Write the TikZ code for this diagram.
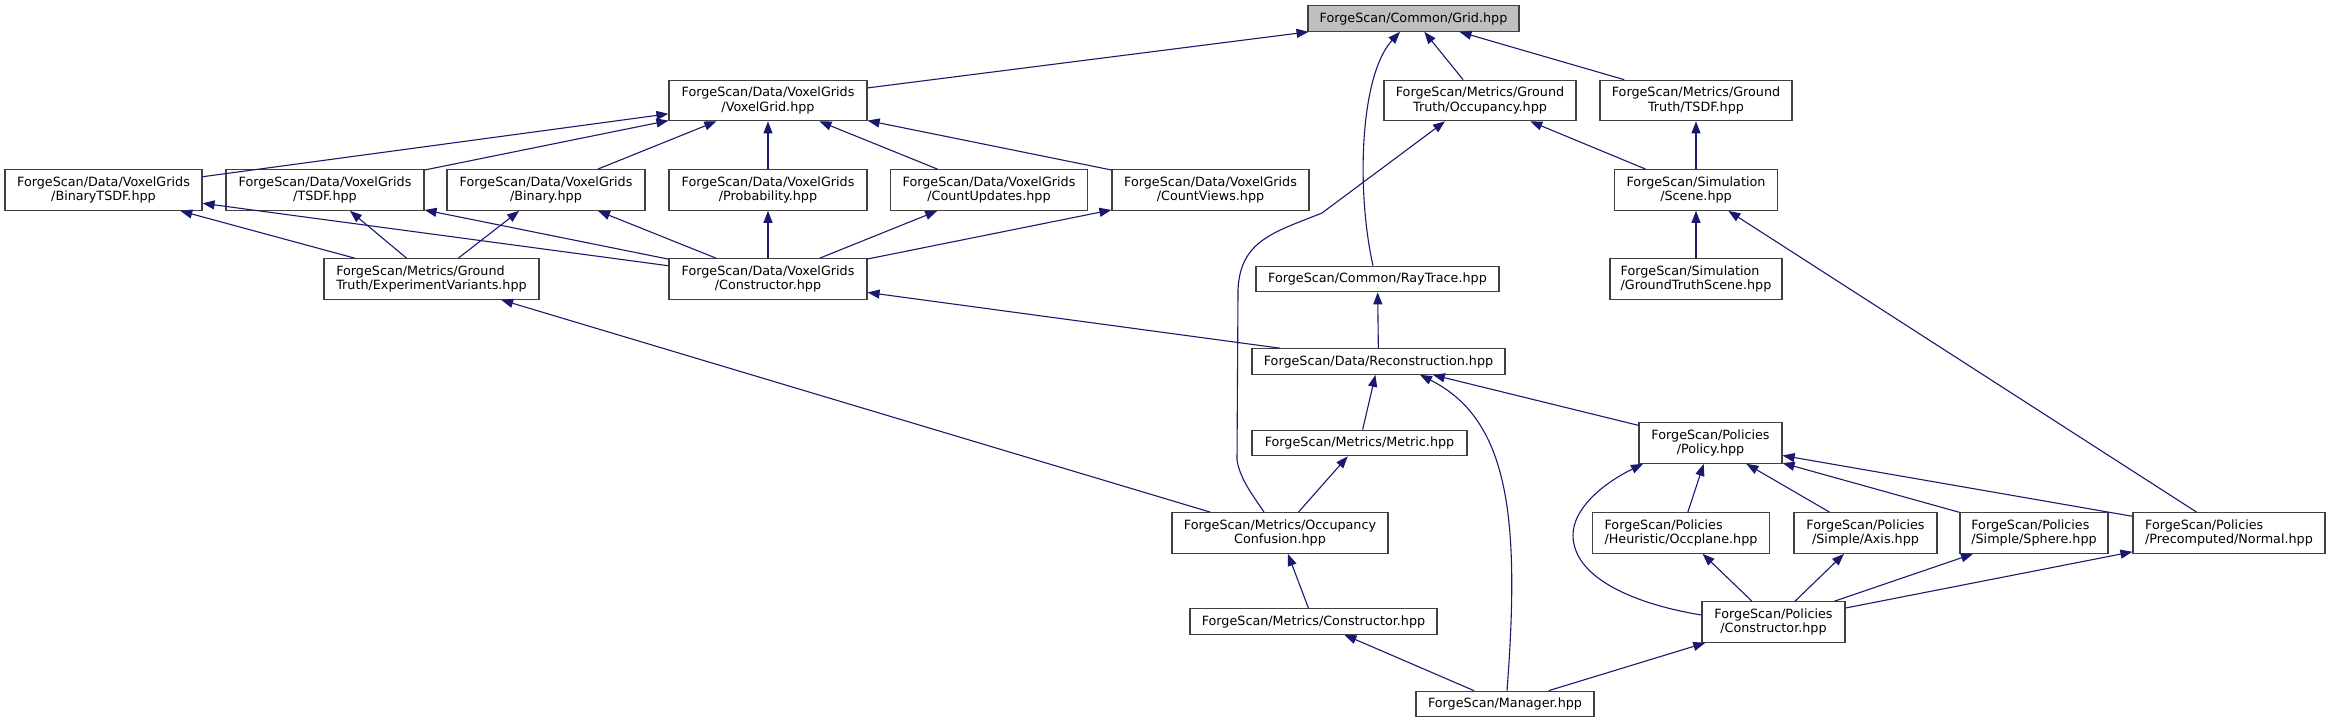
\documentclass[tikz,border=0pt]{standalone}
\usepackage{fontspec}
\setmainfont{DejaVu Sans}
\usetikzlibrary{arrows.meta}
\definecolor{edgec}{HTML}{191970}
\definecolor{boxc}{HTML}{404040}
\definecolor{gridfill}{HTML}{BFBFBF}
\begin{document}
\begin{tikzpicture}[x=1pt,y=-1pt,
  box/.style={draw=boxc, line width=1.2pt, fill=white, inner sep=0pt, align=center,
    font={\fontsize{12.75pt}{14.3pt}\selectfont}},
  lbox/.style={box, align=left},
  one/.style={minimum height=25.5pt},
  two/.style={minimum height=40.5pt},
  edge/.style={draw=edgec, line width=1.1pt, {Triangle[length=12pt,width=9pt]}-}]
\fill[white] (0,0) rectangle (2331,723);
\useasboundingbox (0,0) rectangle (2331,723);

% nodes
\node[box, one, minimum width=211pt, fill=gridfill] (grid) at (1413.5,18.5) {ForgeScan/Common/Grid.hpp};

\node[box, two, minimum width=198pt] (vg) at (768,100.5) {ForgeScan/Data/VoxelGrids\\/VoxelGrid.hpp};
\node[box, two, minimum width=192pt] (occ) at (1480,100.5) {ForgeScan/Metrics/Ground\\Truth/Occupancy.hpp};
\node[box, two, minimum width=192pt] (gttsdf) at (1696,100.5) {ForgeScan/Metrics/Ground\\Truth/TSDF.hpp};

\node[box, two, minimum width=197pt] (btsdf) at (103.5,190) {ForgeScan/Data/VoxelGrids\\/BinaryTSDF.hpp};
\node[box, two, minimum width=198pt] (tsdf) at (325,190) {ForgeScan/Data/VoxelGrids\\/TSDF.hpp};
\node[box, two, minimum width=198pt] (bin) at (546,190) {ForgeScan/Data/VoxelGrids\\/Binary.hpp};
\node[box, two, minimum width=198pt] (prob) at (768,190) {ForgeScan/Data/VoxelGrids\\/Probability.hpp};
\node[box, two, minimum width=197.5pt] (cu) at (989,190) {ForgeScan/Data/VoxelGrids\\/CountUpdates.hpp};
\node[box, two, minimum width=197pt] (cv) at (1210.5,190) {ForgeScan/Data/VoxelGrids\\/CountViews.hpp};
\node[box, two, minimum width=162.5pt] (scene) at (1696,190) {ForgeScan/Simulation\\/Scene.hpp};

\node[lbox, two, minimum width=215pt] (ev) at (431.5,279) {ForgeScan/Metrics/Ground\\Truth/ExperimentVariants.hpp};
\node[box, two, minimum width=198pt] (cvg) at (768,279) {ForgeScan/Data/VoxelGrids\\/Constructor.hpp};
\node[box, one, minimum width=243pt] (rt) at (1377.5,279) {ForgeScan/Common/RayTrace.hpp};
\node[lbox, two, minimum width=172pt] (gts) at (1696,279) {ForgeScan/Simulation\\/GroundTruthScene.hpp};

\node[box, one, minimum width=253pt] (recon) at (1378.5,361.5) {ForgeScan/Data/Reconstruction.hpp};

\node[box, one, minimum width=215pt] (metric) at (1359.5,443) {ForgeScan/Metrics/Metric.hpp};
\node[box, two, minimum width=143pt] (policy) at (1710.5,443) {ForgeScan/Policies\\/Policy.hpp};

\node[box, two, minimum width=216pt] (oc) at (1280,533) {ForgeScan/Metrics/Occupancy\\Confusion.hpp};
\node[lbox, two, minimum width=176.5pt] (occp) at (1681,533) {ForgeScan/Policies\\/Heuristic/Occplane.hpp};
\node[box, two, minimum width=143pt] (axis) at (1865.5,533) {ForgeScan/Policies\\/Simple/Axis.hpp};
\node[lbox, two, minimum width=148pt] (sphere) at (2034,533) {ForgeScan/Policies\\/Simple/Sphere.hpp};
\node[lbox, two, minimum width=192pt] (normal) at (2229,533) {ForgeScan/Policies\\/Precomputed/Normal.hpp};

\node[box, one, minimum width=247pt] (mc) at (1313.5,621.5) {ForgeScan/Metrics/Constructor.hpp};
\node[box, two, minimum width=143pt] (pc) at (1773.5,622) {ForgeScan/Policies\\/Constructor.hpp};

\node[box, one, minimum width=178pt] (mgr) at (1505,704) {ForgeScan/Manager.hpp};

% edges (arrow at the included file)
\draw[edge] (grid) -- (vg);
\draw[edge] (grid) -- (occ);
\draw[edge] (grid) -- (gttsdf);
\draw[edge] ([xshift=-13.5pt]grid.south) .. controls (1360,75) and (1356,190) .. ([xshift=-4.5pt]rt.north);

\draw[edge] (vg) -- (btsdf);
\draw[edge] (vg) -- (tsdf);
\draw[edge] (vg) -- (bin);
\draw[edge] (vg) -- (prob);
\draw[edge] (vg) -- (cu);
\draw[edge] (vg) -- (cv);

\draw[edge] (occ) -- (scene);
\draw[edge] ([xshift=-35pt]occ.south) -- (1322,213) .. controls (1275,232) and (1240,240) .. (1238,290) -- (1237,460) .. controls (1240,480) and (1255,498) .. ([xshift=-16pt]oc.north);
\draw[edge] (gttsdf) -- (scene);

\draw[edge] (btsdf) -- (ev);
\draw[edge] (btsdf) -- (cvg);
\draw[edge] (tsdf) -- (ev);
\draw[edge] (tsdf) -- (cvg);
\draw[edge] (bin) -- (ev);
\draw[edge] (bin) -- (cvg);
\draw[edge] (prob) -- (cvg);
\draw[edge] (cu) -- (cvg);
\draw[edge] (cv) -- (cvg);

\draw[edge] (scene) -- (gts);
\draw[edge] (scene) -- (normal);

\draw[edge] (ev) -- (oc);
\draw[edge] (cvg) -- (recon);
\draw[edge] (rt) -- (recon);

\draw[edge] (recon) -- (metric);
\draw[edge] (recon) -- (policy);
\draw[edge] ([xshift=41.5pt]recon.south) .. controls (1510,420) and (1520,520) .. ([xshift=2pt]mgr.north);

\draw[edge] (metric) -- (oc);

\draw[edge] (policy) -- (occp);
\draw[edge] (policy) -- (axis);
\draw[edge] (policy) -- (sphere);
\draw[edge] (policy) -- (normal);
\draw[edge] ([xshift=-67.5pt]policy.south) .. controls (1600,485) and (1573,510) .. (1573,535) .. controls (1573,580) and (1640,605) .. ([yshift=7pt]pc.west);

\draw[edge] (oc) -- (mc);
\draw[edge] (occp) -- (pc);
\draw[edge] (axis) -- (pc);
\draw[edge] (sphere) -- (pc);
\draw[edge] (normal) -- (pc);

\draw[edge] (mc) -- (mgr);
\draw[edge] (pc) -- (mgr);
\end{tikzpicture}
\end{document}
